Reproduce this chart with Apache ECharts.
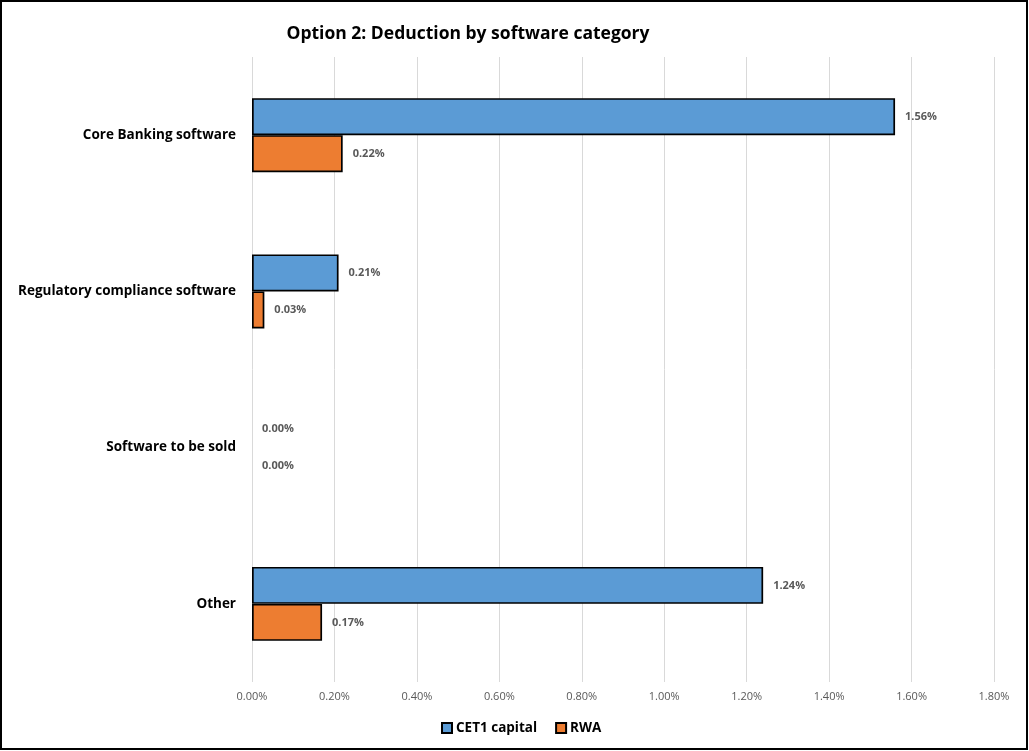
<!DOCTYPE html>
<html>
<head>
<meta charset="utf-8">
<script src="https://cdn.jsdelivr.net/npm/echarts@6/dist/echarts.min.js"></script>
<style>
  html, body { margin: 0; padding: 0; background: #fff; }
  #chart { width: 1029px; height: 751px; }
</style>
</head>
<body>
<div id="chart"></div>
<script>
// Deduction shares per software category (percent)
const categories = ['Core Banking software', 'Regulatory compliance software', 'Software to be sold', 'Other'];
const cet1Capital = [1.56, 0.21, 0.00, 1.24];
const rwa = [0.22, 0.03, 0.00, 0.17];
const seriesNames = ['CET1 capital', 'RWA'];
const xTicks = { min: 0, max: 1.8, interval: 0.2 };

const FONT = '"Open Sans", "Noto Sans", sans-serif';
const chart = echarts.init(document.getElementById('chart'), null, { renderer: 'canvas' });

const labelStyle = {
  show: true,
  position: 'right',
  distance: 10,
  fontFamily: FONT,
  fontSize: 11,
  fontWeight: 'bold',
  color: '#595959',
  formatter: p => p.value.toFixed(2) + '%'
};

// zero-length bars get no outline
const withOutline = values => values.map(v => ({
  value: v,
  itemStyle: { borderWidth: v === 0 ? 0 : 1.7 }
}));

chart.setOption({
  animation: false,
  backgroundColor: '#fff',
  title: {
    text: 'Option 2: Deduction by software category',
    left: 463,
    top: 20,
    textAlign: 'center',
    textStyle: { fontFamily: FONT, fontSize: 17.5, fontWeight: 'bold', color: '#000' }
  },
  legend: {
    bottom: 11,
    left: 436,
    itemWidth: 10,
    itemHeight: 10,
    itemGap: 18,
    icon: 'rect',
    textStyle: { fontFamily: FONT, fontSize: 13.5, fontWeight: 'bold', color: '#000', padding: [0, 0, 0, -1] },
    data: seriesNames
  },
  grid: { left: 252, right: 35, top: 57, bottom: 69 },
  xAxis: {
    type: 'value',
    min: xTicks.min,
    max: xTicks.max,
    interval: xTicks.interval,
    axisLine: { show: false },
    axisTick: { show: false },
    splitLine: { lineStyle: { color: '#d9d9d9', width: 1 } },
    axisLabel: {
      margin: 9,
      fontFamily: FONT,
      fontSize: 11,
      color: '#595959',
      formatter: v => v.toFixed(2) + '%'
    }
  },
  yAxis: {
    type: 'category',
    inverse: true,
    data: categories,
    axisLine: { show: false },
    axisTick: { show: false },
    axisLabel: {
      margin: 16,
      fontFamily: FONT,
      fontSize: 13.5,
      fontWeight: 'bold',
      color: '#000'
    }
  },
  series: [
    {
      name: seriesNames[0],
      type: 'bar',
      data: withOutline(cet1Capital),
      barWidth: 37,
      barGap: '0%',
      itemStyle: { color: '#5b9bd5', borderColor: '#000', borderWidth: 1.7 },
      label: labelStyle
    },
    {
      name: seriesNames[1],
      type: 'bar',
      data: withOutline(rwa),
      barWidth: 37,
      barGap: '0%',
      itemStyle: { color: '#ed7d31', borderColor: '#000', borderWidth: 1.7 },
      label: labelStyle
    }
  ],
  graphic: [{
    type: 'rect',
    shape: { x: 1, y: 1, width: 1026, height: 748 },
    style: { fill: 'none', stroke: '#000', lineWidth: 2 },
    silent: true,
    z: 100
  }]
});
</script>
</body>
</html>
